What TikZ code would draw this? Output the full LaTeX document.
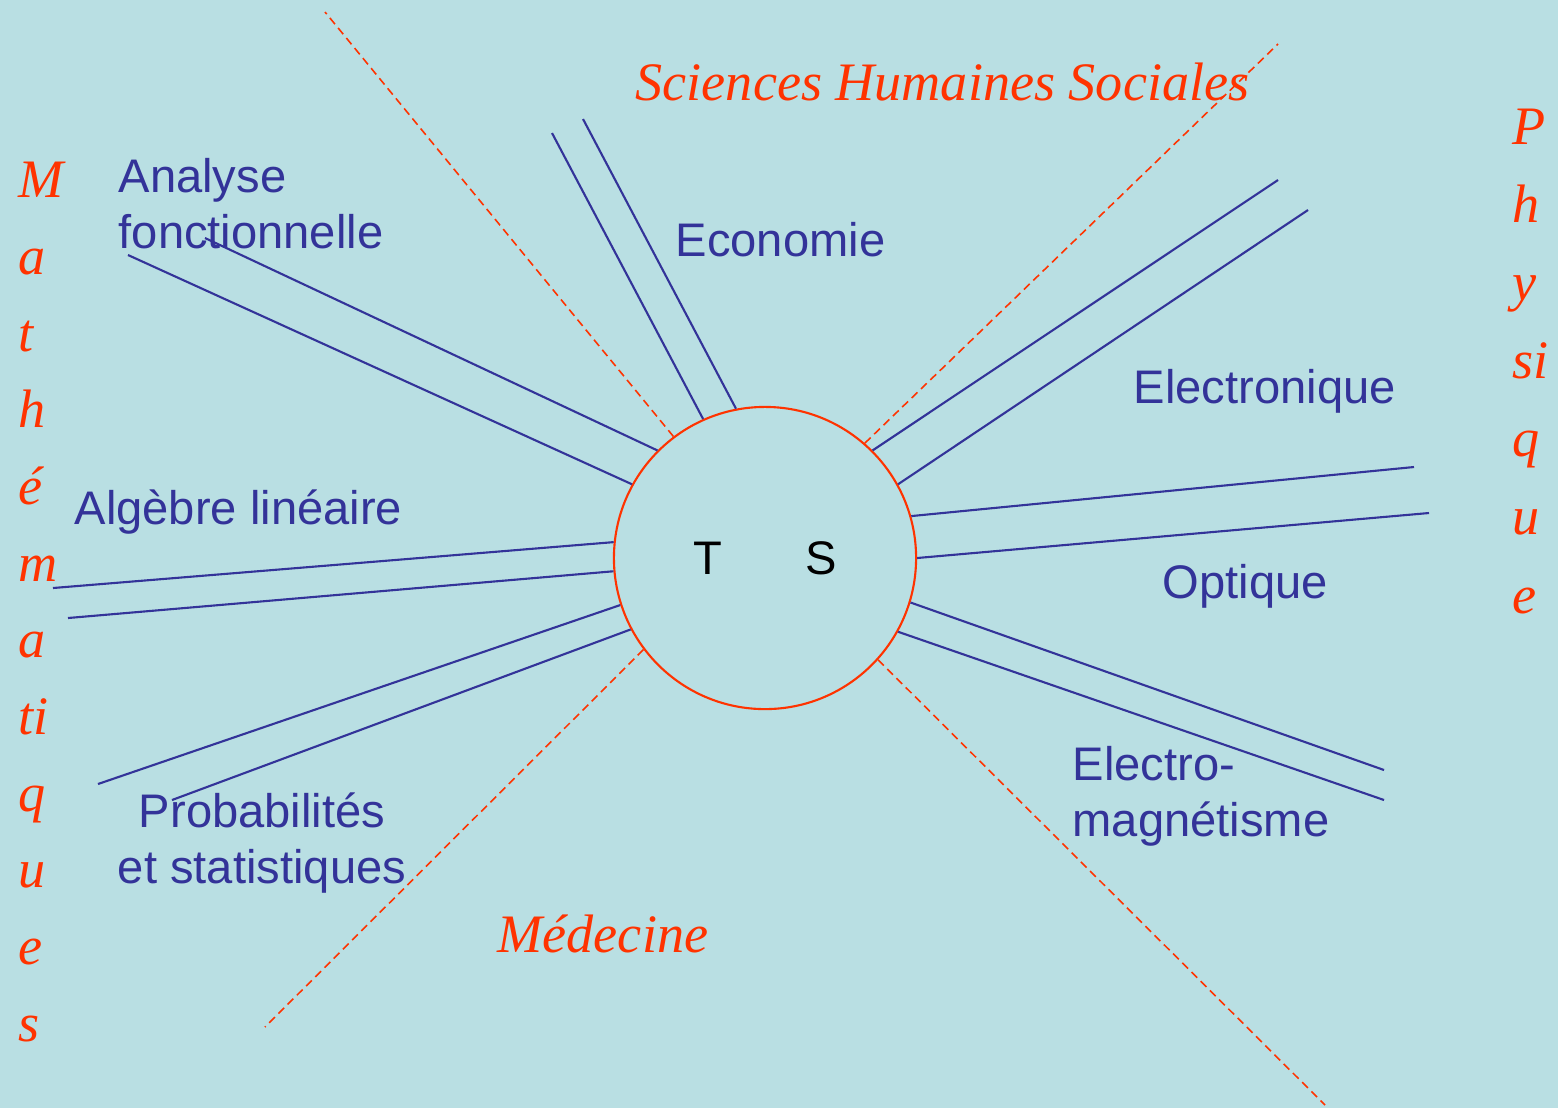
\documentclass[tikz,border=0pt]{standalone}
\usepackage{fontspec}
\setmainfont{Liberation Serif}
\setsansfont{Liberation Sans}
\definecolor{fond}{HTML}{B9DFE3}
\definecolor{bleu}{HTML}{333399}
\definecolor{rouge}{HTML}{FF3300}
\tikzset{
  branche/.style={bleu, line width=0.6pt},
  frontiere/.style={rouge, line width=0.45pt, dash pattern=on 2.3pt off 1.4pt},
  matiere/.style={bleu, font=\sffamily\fontsize{13.4}{15.9}\selectfont, inner sep=0pt, anchor=base west, align=left},
  domaine/.style={rouge, font=\itshape\fontsize{15.4}{21.8}\selectfont, inner sep=0pt, anchor=base west, align=left}
}

\begin{document}
\begin{tikzpicture}[x=0.01cm, y=-0.01cm]
    % fond
    \fill[fond] (0,0) rectangle (1558,1108);
    \useasboundingbox (0,0) rectangle (1558,1108);

    % le cercle central
    \node[draw=rouge, line width=0.6pt, circle, minimum size=3.02cm, inner sep=0pt,
          font=\sffamily\fontsize{13.4}{15.9}\selectfont] (ts) at (765,558) {T\hspace{23.6pt}S};

    % frontieres entre les domaines
    \coordinate (f1) at (325,12);
    \coordinate (f2) at (1278,44);
    \coordinate (f3) at (265,1027);
    \coordinate (f4) at (1325,1105);
    \draw[frontiere] (ts.127) -- (f1);
    \draw[frontiere] (ts.49) -- (f2);
    \draw[frontiere] (ts.217) -- (f3);
    \draw[frontiere] (ts.318) -- (f4);

    % Analyse fonctionnelle
    \coordinate (ana1) at (128,255);
    \coordinate (ana2) at (205,238);
    \draw[branche] (ts.151) -- (ana1);
    \draw[branche] (ts.135.5) -- (ana2);
    \node[matiere] (ana) at (118,248) {Analyse\\fonctionnelle};

    % Economie
    \coordinate (eco1) at (552,133);
    \coordinate (eco2) at (583,119);
    \draw[branche] (ts.114.2) -- (eco1);
    \draw[branche] (ts.101.3) -- (eco2);
    \node[matiere] (eco) at (675,256) {Economie};

    % Electronique
    \coordinate (ele1) at (1278,180);
    \coordinate (ele2) at (1308,210);
    \draw[branche] (ts.45) -- (ele1);
    \draw[branche] (ts.29.4) -- (ele2);
    \node[matiere] (ele) at (1133,403) {Electronique};

    % Optique
    \coordinate (opt1) at (1414,467);
    \coordinate (opt2) at (1429,513);
    \draw[branche] (ts.16.9) -- (opt1);
    \draw[branche] (ts.0.4) -- (opt2);
    \node[matiere] (opt) at (1162,598) {Optique};

    % Electromagnetisme
    \coordinate (em1) at (1384,770);
    \coordinate (em2) at (1384,800);
    \draw[branche] (ts.343.4) -- (em1);
    \draw[branche] (ts.331) -- (em2);
    \node[matiere] (em) at (1072,836) {Electro-\\magnétisme};

    % Probabilites
    \coordinate (pro1) at (98,784);
    \coordinate (pro2) at (172,800);
    \draw[branche] (ts.198.3) -- (pro1);
    \draw[branche] (ts.208.7) -- (pro2);
    \node[matiere, align=center, anchor=base] (pro) at (262,883) {Probabilités\\et statistiques};

    % Algebre lineaire
    \coordinate (alg1) at (53,588);
    \coordinate (alg2) at (68,618);
    \draw[branche] (ts.174.3) -- (alg1);
    \draw[branche] (ts.185.7) -- (alg2);
    \node[matiere] (alg) at (74,524) {Algèbre linéaire};

    % les grands domaines
    \node[domaine] (shs) at (635,100) {Sciences Humaines Sociales};
    \node[domaine] (med) at (497,952) {Médecine};
    \node[domaine] (math) at (18,1041) {M\\a\\t\\h\\é\\m\\a\\ti\\q\\u\\e\\s};
    \node[domaine, font=\itshape\fontsize{15.4}{22.2}\selectfont] (phys) at (1512,613) {P\\h\\y\\si\\q\\u\\e};
\end{tikzpicture}
\end{document}
